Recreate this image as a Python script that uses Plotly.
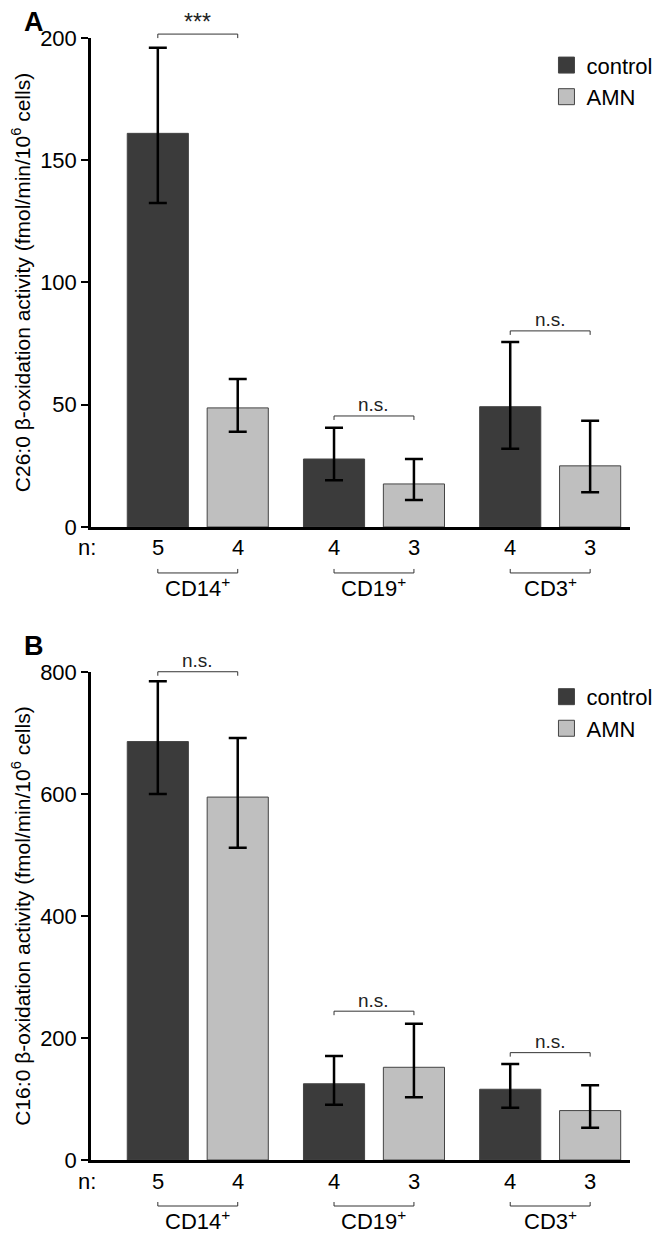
import plotly.graph_objects as go

groups = ["CD14<sup>+</sup>", "CD19<sup>+</sup>", "CD3<sup>+</sup>"]
group_idx = [0, 1, 2]
n_control = [5, 4, 4]
n_amn = [4, 3, 3]

# A: C26:0
c26_control = [161, 27.8, 49.2]
c26_control_hi = [35, 12.8, 26.5]
c26_control_lo = [28.5, 8.7, 17.2]
c26_amn = [48.7, 17.6, 25.0]
c26_amn_hi = [11.8, 10.2, 18.4]
c26_amn_lo = [9.8, 6.6, 10.8]
c26_sig = ["***", "n.s.", "n.s."]
c26_sig_y = [201.6, 45.4, 80.2]

# B: C16:0
c16_control = [686, 125, 116]
c16_control_hi = [99, 45.5, 41.4]
c16_control_lo = [86, 34.3, 30.2]
c16_amn = [595, 152, 81]
c16_amn_hi = [97, 71.5, 41.4]
c16_amn_lo = [83, 49, 28.1]
c16_sig = ["n.s.", "n.s.", "n.s."]
c16_sig_y = [800.5, 244, 176]

FONT = "Liberation Sans, Arial, Helvetica, sans-serif"
DARK = "#3b3b3b"
LIGHT = "#bfbfbf"
EDGE = "#444444"
BARGAP = 0.093
BARGROUPGAP = 0.235
d = (1 - BARGAP) / 4  # offset of each bar from group centre

panels = [
    dict(ax="", ymax=200, legend="legend",
         title="C26:0 β-oxidation activity (fmol/min/10<sup>6</sup> cells)",
         ctrl=(c26_control, c26_control_hi, c26_control_lo),
         amn=(c26_amn, c26_amn_hi, c26_amn_lo),
         sig=c26_sig, sig_y=c26_sig_y),
    dict(ax="2", ymax=800, legend="legend2",
         title="C16:0 β-oxidation activity (fmol/min/10<sup>6</sup> cells)",
         ctrl=(c16_control, c16_control_hi, c16_control_lo),
         amn=(c16_amn, c16_amn_hi, c16_amn_lo),
         sig=c16_sig, sig_y=c16_sig_y),
]

fig = go.Figure()
shapes = []
annotations = []

for p in panels:
    xa, ya = "x" + p["ax"], "y" + p["ax"]
    for name, (vals, hi, lo), color in [("control", p["ctrl"], DARK), ("AMN", p["amn"], LIGHT)]:
        fig.add_trace(go.Bar(
            x=group_idx, y=vals, name=name, xaxis=xa, yaxis=ya, showlegend=False,
            marker=dict(color=color, line=dict(color=EDGE, width=1)),
            error_y=dict(type="data", symmetric=False, array=hi, arrayminus=lo,
                         color="black", thickness=2.5, width=9),
        ))
        # legend swatch
        fig.add_trace(go.Scatter(
            x=[None], y=[None], mode="markers", name=name, xaxis=xa, yaxis=ya,
            legend=p["legend"],
            marker=dict(symbol="square", size=24, color=color, line=dict(color=EDGE, width=1)),
        ))

    for i, g in enumerate(group_idx):
        # significance bracket
        pos = p["sig_y"][i] / p["ymax"]
        shapes.append(dict(
            type="path", xref=xa, yref=ya + " domain", ysizemode="pixel", yanchor=pos,
            path=f"M{g - d},-4 V0 H{g + d} V-4",
            line=dict(color="#333333", width=1),
        ))
        stars = p["sig"][i] == "***"
        annotations.append(dict(
            x=g, y=pos, xref=xa, yref=ya + " domain", text=p["sig"][i], showarrow=False,
            yanchor="middle", yshift=12 if stars else 11,
            font=dict(size=23 if stars else 19, color="#222222"),
        ))
        # group bracket under the n row
        shapes.append(dict(
            type="path", xref=xa, yref=ya + " domain", ysizemode="pixel", yanchor=0,
            path=f"M{g - d},-42 V-46 H{g + d} V-42",
            line=dict(color="#333333", width=1),
        ))
        annotations.append(dict(
            x=g, y=0, xref=xa, yref=ya + " domain", text=groups[i], showarrow=False,
            yanchor="middle", yshift=-60, font=dict(size=22),
        ))
        for off, n in [(-d, n_control[i]), (d, n_amn[i])]:
            annotations.append(dict(
                x=g + off, y=0, xref=xa, yref=ya + " domain", text=str(n), showarrow=False,
                yanchor="middle", yshift=-21, font=dict(size=22),
            ))
    annotations.append(dict(
        x=-0.028, y=0, xref=xa + " domain", yref=ya + " domain", text="n:", showarrow=False,
        yanchor="middle", yshift=-21, font=dict(size=22),
    ))

annotations.append(dict(x=-0.128, y=1.0295, xref="paper", yref="paper", text="<b>A</b>",
                        xanchor="left", yanchor="top", showarrow=False, font=dict(size=27)))
annotations.append(dict(x=-0.128, y=0.4733, xref="paper", yref="paper", text="<b>B</b>",
                        xanchor="left", yanchor="top", showarrow=False, font=dict(size=27)))

xaxis_style = dict(range=[-0.606, 2.453], showline=True, linewidth=2.5, linecolor="black",
                   showticklabels=False, ticks="", showgrid=False, zeroline=False)
yaxis_style = dict(showline=True, linewidth=2.5, linecolor="black", ticks="outside",
                   ticklen=7, tickwidth=2, tickcolor="black", showgrid=False, zeroline=False,
                   tickfont=dict(size=22), title_font=dict(size=21), title_standoff=8)

legend_style = dict(xanchor="left", yanchor="top", x=0.845, font=dict(size=22),
                    bgcolor="rgba(0,0,0,0)", tracegroupgap=0)

# page body keeps an 8px margin, so the figure is 8px smaller than the window
fig.update_layout(
    width=659, height=1225,
    margin=dict(l=77, r=9, t=30, b=73),
    paper_bgcolor="white", plot_bgcolor="white",
    font=dict(family=FONT, color="black"),
    barmode="group", bargap=BARGAP, bargroupgap=BARGROUPGAP,
    xaxis=dict(domain=[0, 1], anchor="y", **xaxis_style),
    yaxis=dict(domain=[0.5642, 1], anchor="x", range=[0, 200], dtick=50,
               title_text=panels[0]["title"], **yaxis_style),
    xaxis2=dict(domain=[0, 1], anchor="y2", **xaxis_style),
    yaxis2=dict(domain=[0, 0.4349], anchor="x2", range=[0, 800], dtick=200,
                title_text=panels[1]["title"], **yaxis_style),
    legend=dict(y=0.9944, **legend_style),
    legend2=dict(y=0.4315, **legend_style),
    shapes=shapes,
    annotations=annotations,
)

fig.write_html("out.html")
